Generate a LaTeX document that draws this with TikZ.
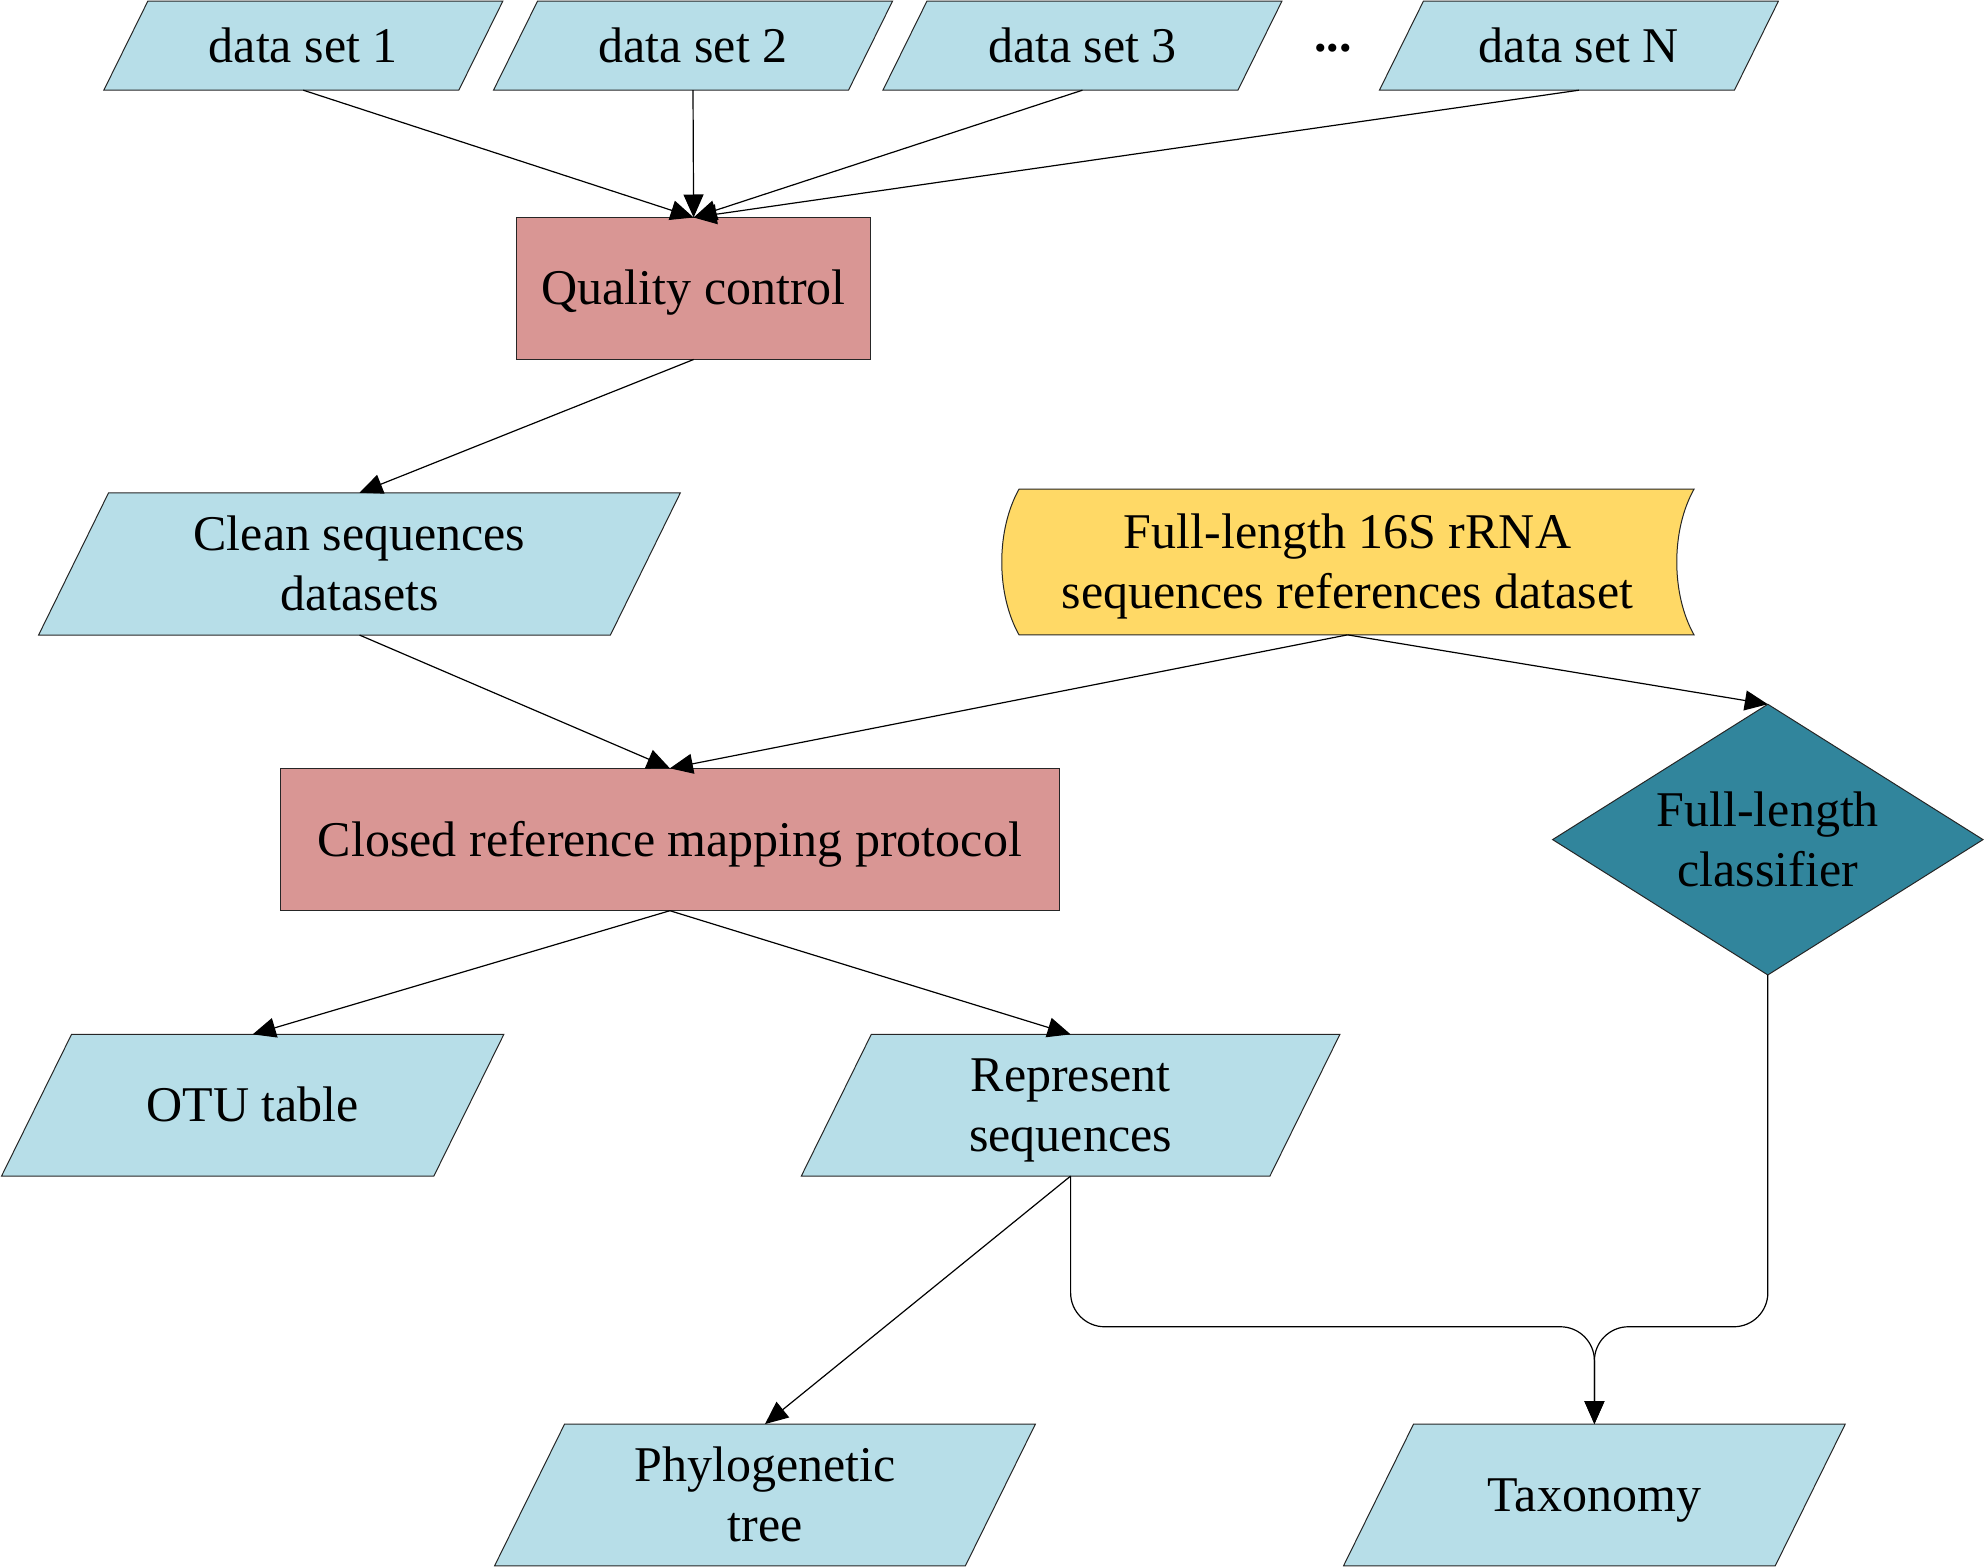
\documentclass[tikz,border=0pt]{standalone}
\usepackage{fontspec}
\setmainfont{Liberation Serif}
\usetikzlibrary{arrows.meta,calc,backgrounds}
\definecolor{lblue}{HTML}{B7DEE8}
\definecolor{rose}{HTML}{D99694}
\definecolor{gold}{HTML}{FFD966}
\definecolor{tealfive}{HTML}{31859C}
\definecolor{edgec}{HTML}{262626}
\newcommand{\paraback}[2]{%
  \path[shapeline, fill=lblue] ($(#1.south west)+(-#2,0)$) -- ($(#1.south east)+(-#2,0)$)
    -- ($(#1.north east)+(#2,0)$) -- ($(#1.north west)+(#2,0)$) -- cycle;}
\newcommand{\ls}{\rule[-5.5pt]{0pt}{27.5pt}}
\begin{document}
\begin{tikzpicture}[x=0.5pt,y=-0.5pt,
  lbl/.style={draw=none, inner sep=0pt, outer sep=0pt, align=center,
    font=\fontsize{25}{30}\selectfont, text=black},
  box/.style={lbl, rectangle, draw=edgec, line width=0.5pt, fill=rose},
  para/.style={lbl, rectangle},
  conn/.style={line width=0.6pt, draw=black, -{Triangle[length=11.5pt,width=10pt]}},
  shapeline/.style={draw=edgec, line width=0.5pt}
]
\useasboundingbox (0,0) rectangle (1985,1567);

% nodes
\node[para, minimum width=177.5pt, minimum height=44.5pt] (ds1) at (303.3,45.7) {\ls data set 1};
\node[para, minimum width=177.5pt, minimum height=44.5pt] (ds2) at (693,45.7) {\ls data set 2};
\node[para, minimum width=177.5pt, minimum height=44.5pt] (ds3) at (1082.4,45.7) {\ls data set 3};
\node[para, minimum width=177.5pt, minimum height=44.5pt] (dsN) at (1578.9,45.7) {\ls data set N};
\node[lbl, font=\fontsize{25}{30}\selectfont\bfseries] (dots) at (1333,48) {...};
\node[box, minimum width=177pt, minimum height=71pt] (qc) at (693.6,288.5) {\ls Quality control};
\node[para, minimum width=285.9pt, minimum height=71.15pt] (clean) at (359.5,563.9) {\ls Clean sequences\\\ls datasets};
\node[lbl, minimum width=346.5pt, minimum height=72.85pt] (ref) at (1347.5,562) {\ls Full-length 16S rRNA\\\ls sequences references dataset};
\node[box, minimum width=389.4pt, minimum height=71.2pt] (crmp) at (669.9,839.5) {\ls Closed reference mapping protocol};
\node[lbl, minimum width=215.2pt, minimum height=135.35pt] (cls) at (1767.8,839.6) {\ls Full-length\\\ls classifier};
\node[para, minimum width=216.15pt, minimum height=70.85pt] (otu) at (252.7,1105.2) {\ls OTU table};
\node[para, minimum width=234.3pt, minimum height=70.85pt] (rep) at (1070.6,1105.2) {\ls Represent\\\ls sequences};
\node[para, minimum width=235.4pt, minimum height=70.85pt] (phy) at (765,1494.9) {\ls Phylogenetic\\\ls tree};
\node[para, minimum width=215.85pt, minimum height=70.85pt] (tax) at (1594.4,1494.9) {\ls Taxonomy};

% shapes behind the texts
\begin{scope}[on background layer]
  \paraback{ds1}{22}
  \paraback{ds2}{22}
  \paraback{ds3}{22}
  \paraback{dsN}{22}
  \paraback{clean}{35}
  \paraback{otu}{35}
  \paraback{rep}{35}
  \paraback{phy}{35}
  \paraback{tax}{35}
  \path[shapeline, fill=gold] ($(ref.north west)+(18,0)$) -- (ref.north east)
    .. controls ($(ref.north east)+(-23,41)$) and ($(ref.south east)+(-23,-41)$) .. (ref.south east)
    -- ($(ref.south west)+(18,0)$)
    .. controls ($(ref.south west)+(-5,-41)$) and ($(ref.north west)+(-5,41)$) .. ($(ref.north west)+(18,0)$)
    -- cycle;
  \path[shapeline, fill=tealfive] (cls.north) -- (cls.east) -- (cls.south) -- (cls.west) -- cycle;
\end{scope}

% connectors
\draw[conn] (ds1.south) -- (qc.north);
\draw[conn] (ds2.south) -- (qc.north);
\draw[conn] (ds3.south) -- (qc.north);
\draw[conn] (dsN.south) -- (qc.north);
\draw[conn] (qc.south) -- (clean.north);
\draw[conn] (clean.south) -- (crmp.north);
\draw[conn] (ref.south) -- (crmp.north);
\draw[conn] (ref.south) -- (cls.north);
\draw[conn] (crmp.south) -- (otu.north);
\draw[conn] (crmp.south) -- (rep.north);
\draw[conn] (rep.south) -- (phy.north);
\path (tax.north) ++(0,-97.3) coordinate (merge);
\draw[conn, rounded corners=17pt] (rep.south) |- (merge) -- (tax.north);
\draw[conn, rounded corners=17pt] (cls.south) |- (merge) -- (tax.north);
\end{tikzpicture}
\end{document}
